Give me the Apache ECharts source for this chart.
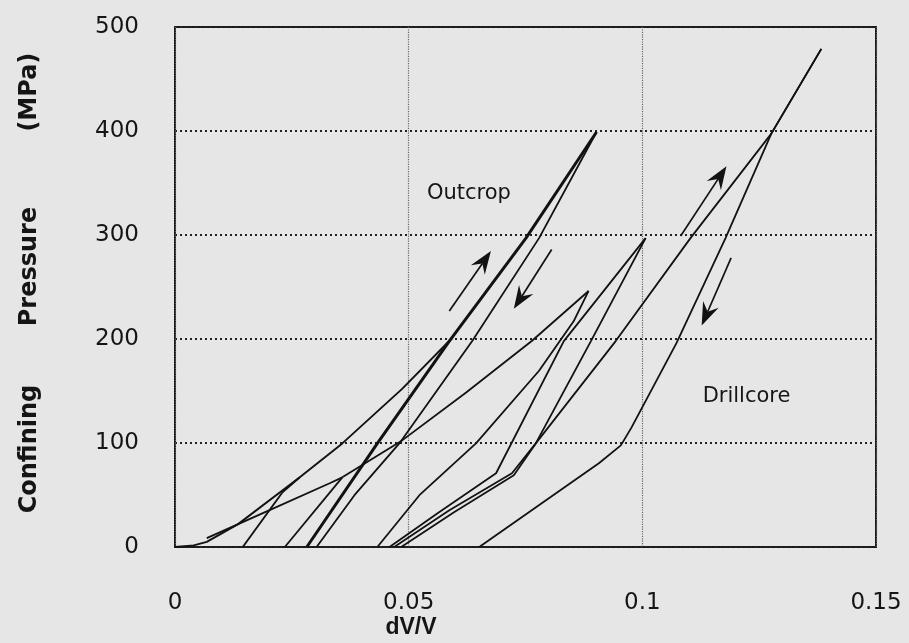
<!DOCTYPE html>
<html><head><meta charset="utf-8">
<script src="https://cdn.jsdelivr.net/npm/echarts@6/dist/echarts.min.js"></script>
<style>html,body{margin:0;padding:0;background:#e6e6e6}#c{width:909px;height:643px}</style>
</head><body><div id="c"></div>
<script>
// Axis ticks
const xTickValues = [0, 0.05, 0.1, 0.15];
const xTickLabels = ['0', '0.05', '0.1', '0.15'];
const yTickValues = [0, 100, 200, 300, 400, 500];
const yTickLabels = ['0', '100', '200', '300', '400', '500'];
const xTitle = 'dV/V';
const yTitle = 'Confining       Pressure         (MPa)';

// Outcrop sample curves [dV/V, MPa]
const outcropEnvelope = [[0,0],[0.004,1.5],[0.0068,5],[0.0135,22],[0.0267,67],[0.0358,99.6],[0.0486,152],[0.0593,201]];
const outcropReload400 = [[0.0282,0],[0.0433,99.6],[0.0587,198],[0.0751,297],[0.0902,399]];
const outcropUnload400 = [[0.0902,399],[0.0779,297],[0.0636,198],[0.048,99.6],[0.0384,49.8],[0.0303,0]];
const outcropUnload70 = [[0.0267,67],[0.023,52.7],[0.0145,0]];
const outcropLower70 = [[0.0068,8.6],[0.0188,32.6],[0.0331,61.3],[0.0358,67]];
const outcropUnload70b = [[0.0235,0],[0.0358,67]];
const outcropLoad250 = [[0.0358,67],[0.0486,102.5],[0.0623,148.5],[0.0764,198.3],[0.0885,246.2]];
const outcropUnload250 = [[0.0885,246.2],[0.0853,217],[0.0779,169.5],[0.0644,99.6],[0.0523,49.8],[0.0433,0]];

// Drillcore sample curves
const drillLoad300 = [[0.0459,0],[0.0565,33.5],[0.0687,70.9],[0.0832,198],[0.0917,246],[0.1007,297]];
const drillUnload300 = [[0.1007,297],[0.089,198],[0.0772,99.6],[0.0721,70.9],[0.0587,35.4],[0.0469,0]];
const drillLoad480 = [[0.0484,0],[0.0597,33.5],[0.0725,69],[0.0772,99.6],[0.0943,198],[0.1103,297],[0.1276,397.5],[0.1383,479]];
const drillUnload480 = [[0.1383,479],[0.1276,397.5],[0.1178,297],[0.1073,196],[0.0977,115],[0.0954,97.7],[0.0907,80.5],[0.0651,0]];

// Direction arrows [tailX, tailY, tipX, tipY]
const arrowOutcropUp = [0.0587, 227, 0.0676, 284.5];
const arrowOutcropDown = [0.0806, 286, 0.0725, 229];
const arrowDrillUp = [0.1082, 299, 0.118, 366];
const arrowDrillDown = [0.119, 278, 0.1127, 213];

// Annotation labels
const labelNames = ['Outcrop', 'Drillcore'];
const labelPoints = [[0.0629, 340], [0.1223, 144.6]];

const FONT = 'DejaVu Sans';
const INK = '#121212';

const curves = [
  {d: outcropEnvelope, w: 1.9},
  {d: outcropReload400, w: 3},
  {d: outcropUnload400, w: 1.8},
  {d: outcropUnload70, w: 1.9},
  {d: outcropLower70, w: 1.9},
  {d: outcropUnload70b, w: 1.8},
  {d: outcropLoad250, w: 1.8},
  {d: outcropUnload250, w: 1.8},
  {d: drillLoad300, w: 1.8},
  {d: drillUnload300, w: 1.8},
  {d: drillLoad480, w: 1.8},
  {d: drillUnload480, w: 1.8}
];

const series = curves.map(c => ({
  type: 'line', data: c.d, showSymbol: false, symbol: 'none',
  lineStyle: {color: INK, width: c.w}, z: 3, silent: true
}));

series.push({
  type: 'custom', z: 4, silent: true,
  data: [arrowOutcropUp, arrowOutcropDown, arrowDrillUp, arrowDrillDown],
  encode: {x: [0, 2], y: [1, 3]},
  renderItem: function (params, api) {
    const a = api.coord([api.value(0), api.value(1)]);
    const b = api.coord([api.value(2), api.value(3)]);
    const dx = b[0] - a[0], dy = b[1] - a[1];
    const len = Math.sqrt(dx * dx + dy * dy);
    const ux = dx / len, uy = dy / len, nx = -uy, ny = ux;
    const L = 23, W = 8.5, N = 15;
    const bx = b[0] - ux * L, by = b[1] - uy * L;
    const cx = b[0] - ux * N, cy = b[1] - uy * N;
    return {type: 'group', children: [
      {type: 'line', shape: {x1: a[0], y1: a[1], x2: cx, y2: cy}, style: {stroke: INK, lineWidth: 1.7}},
      {type: 'polygon', shape: {points: [b, [bx + nx * W, by + ny * W], [cx, cy], [bx - nx * W, by - ny * W]]}, style: {fill: INK}}
    ]};
  }
});

series.push({
  type: 'custom', z: 5, silent: true,
  data: labelPoints,
  renderItem: function (params, api) {
    const p = api.coord([api.value(0), api.value(1)]);
    return {type: 'text', x: p[0], y: p[1], style: {text: labelNames[params.dataIndex],
      fontFamily: FONT, fontSize: 21, fill: '#161616', align: 'center', verticalAlign: 'middle'}};
  }
});

const chart = echarts.init(document.getElementById('c'), null, {renderer: 'canvas'});
chart.setOption({
  backgroundColor: '#e6e6e6',
  animation: false,
  grid: {left: 175, right: 33, top: 27, bottom: 96, show: true, borderColor: '#1a1a1a', borderWidth: 2, backgroundColor: 'transparent'},
  xAxis: {
    type: 'value', min: 0, max: 0.15, interval: 0.05,
    axisLine: {show: false}, axisTick: {show: false},
    axisLabel: {margin: 45, fontFamily: FONT, fontSize: 23, color: '#151515',
      formatter: v => { const i = xTickValues.findIndex(t => Math.abs(t - v) < 1e-9); return i >= 0 ? xTickLabels[i] : ''; }},
    splitLine: {show: true, lineStyle: {color: '#666', width: 1.2, type: 'dotted'}}
  },
  yAxis: {
    type: 'value', min: 0, max: 500, interval: 100,
    axisLine: {show: false}, axisTick: {show: false},
    axisLabel: {margin: 36, fontFamily: FONT, fontSize: 23, color: '#151515',
      formatter: v => { const i = yTickValues.indexOf(v); return i >= 0 ? yTickLabels[i] : ''; }},
    splitLine: {show: true, lineStyle: {color: '#222', width: 2, type: [2, 3]}}
  },
  graphic: [
    {type: 'text', style: {x: 411, y: 628, text: xTitle, fontFamily: 'Liberation Sans', fontSize: 23, fontWeight: 'bold', fill: '#151515', align: 'center', verticalAlign: 'middle'}},
    {type: 'text', x: 30, y: 283, rotation: Math.PI / 2, style: {x: 0, y: 0, text: yTitle, fontFamily: FONT, fontSize: 24, fontWeight: 'bold', fill: '#151515', align: 'center', verticalAlign: 'middle'}}
  ],
  series: series
});
</script></body></html>
